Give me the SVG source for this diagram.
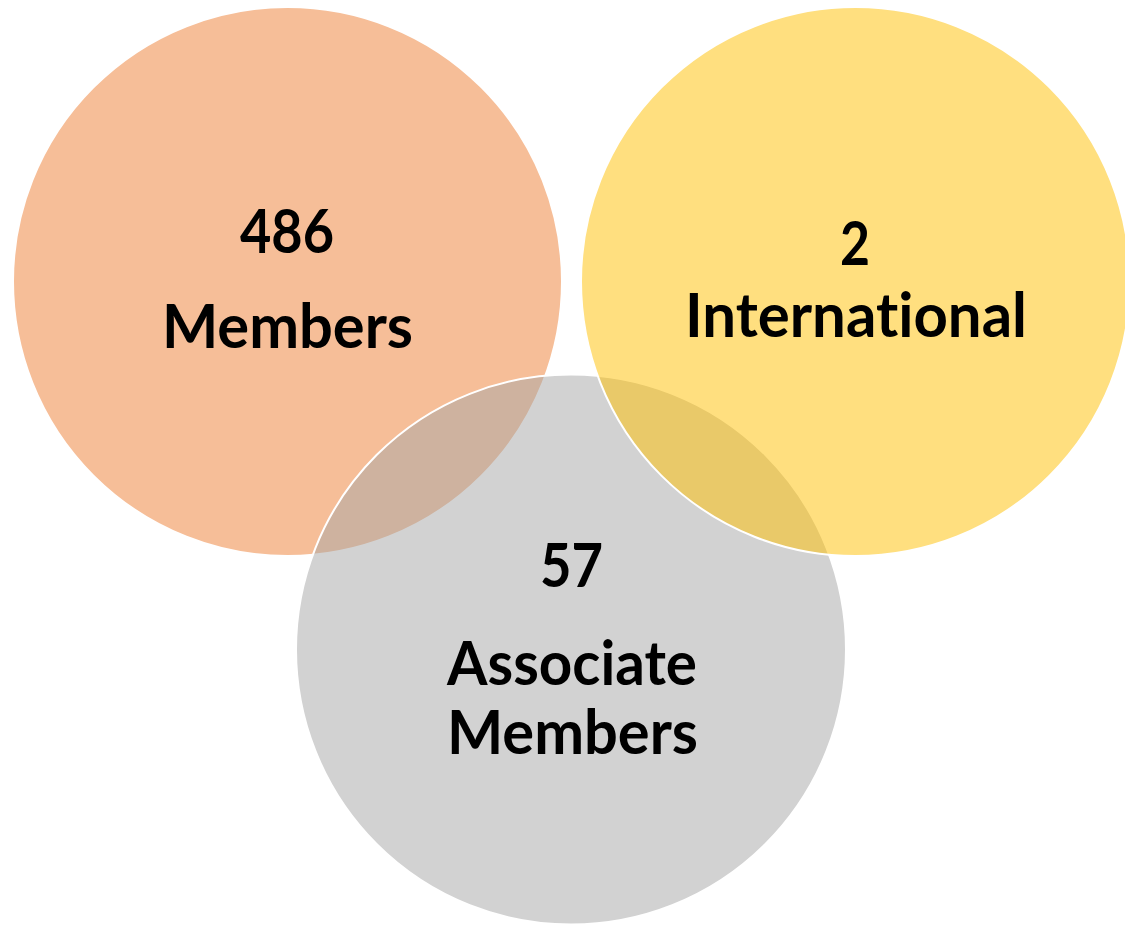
<svg xmlns="http://www.w3.org/2000/svg" width="1125" height="926" viewBox="0 0 1125 926">
  <style>
    .set { stroke: #FFFFFF; stroke-width: 2; fill-opacity: 0.5; }
    .label { font-family: Lato, "Liberation Sans", sans-serif; font-weight: 700; font-size: 61px; fill: #000000; text-anchor: middle; font-variant-ligatures: none; font-feature-settings: "liga" 0, "clig" 0; }
  </style>
  <rect x="0" y="0" width="1125" height="926" fill="#FFFFFF"/>

  <!-- Members -->
  <g id="members">
    <circle class="set" cx="287.5" cy="281.5" r="274.5" fill="#ED7D31"/>
    <text class="label" x="287" y="253" textLength="94" lengthAdjust="spacingAndGlyphs">486</text>
    <text class="label" x="287.5" y="348" textLength="251" lengthAdjust="spacingAndGlyphs">Members</text>
  </g>

  <!-- Associate Members -->
  <g id="associate-members">
    <circle class="set" cx="571" cy="649.5" r="275" fill="#A5A5A5"/>
    <text class="label" x="571.5" y="587" textLength="63" lengthAdjust="spacingAndGlyphs">57</text>
    <text class="label" x="572" y="685" textLength="250" lengthAdjust="spacingAndGlyphs">Associate</text>
    <text class="label" x="572.5" y="754" textLength="251" lengthAdjust="spacingAndGlyphs">Members</text>
  </g>

  <!-- International -->
  <g id="international">
    <circle class="set" cx="855.5" cy="281.5" r="274.5" fill="#FFC000"/>
    <text class="label" x="855" y="265" textLength="30" lengthAdjust="spacingAndGlyphs">2</text>
    <text class="label" x="856" y="337" textLength="342" lengthAdjust="spacingAndGlyphs">International</text>
  </g>
</svg>
